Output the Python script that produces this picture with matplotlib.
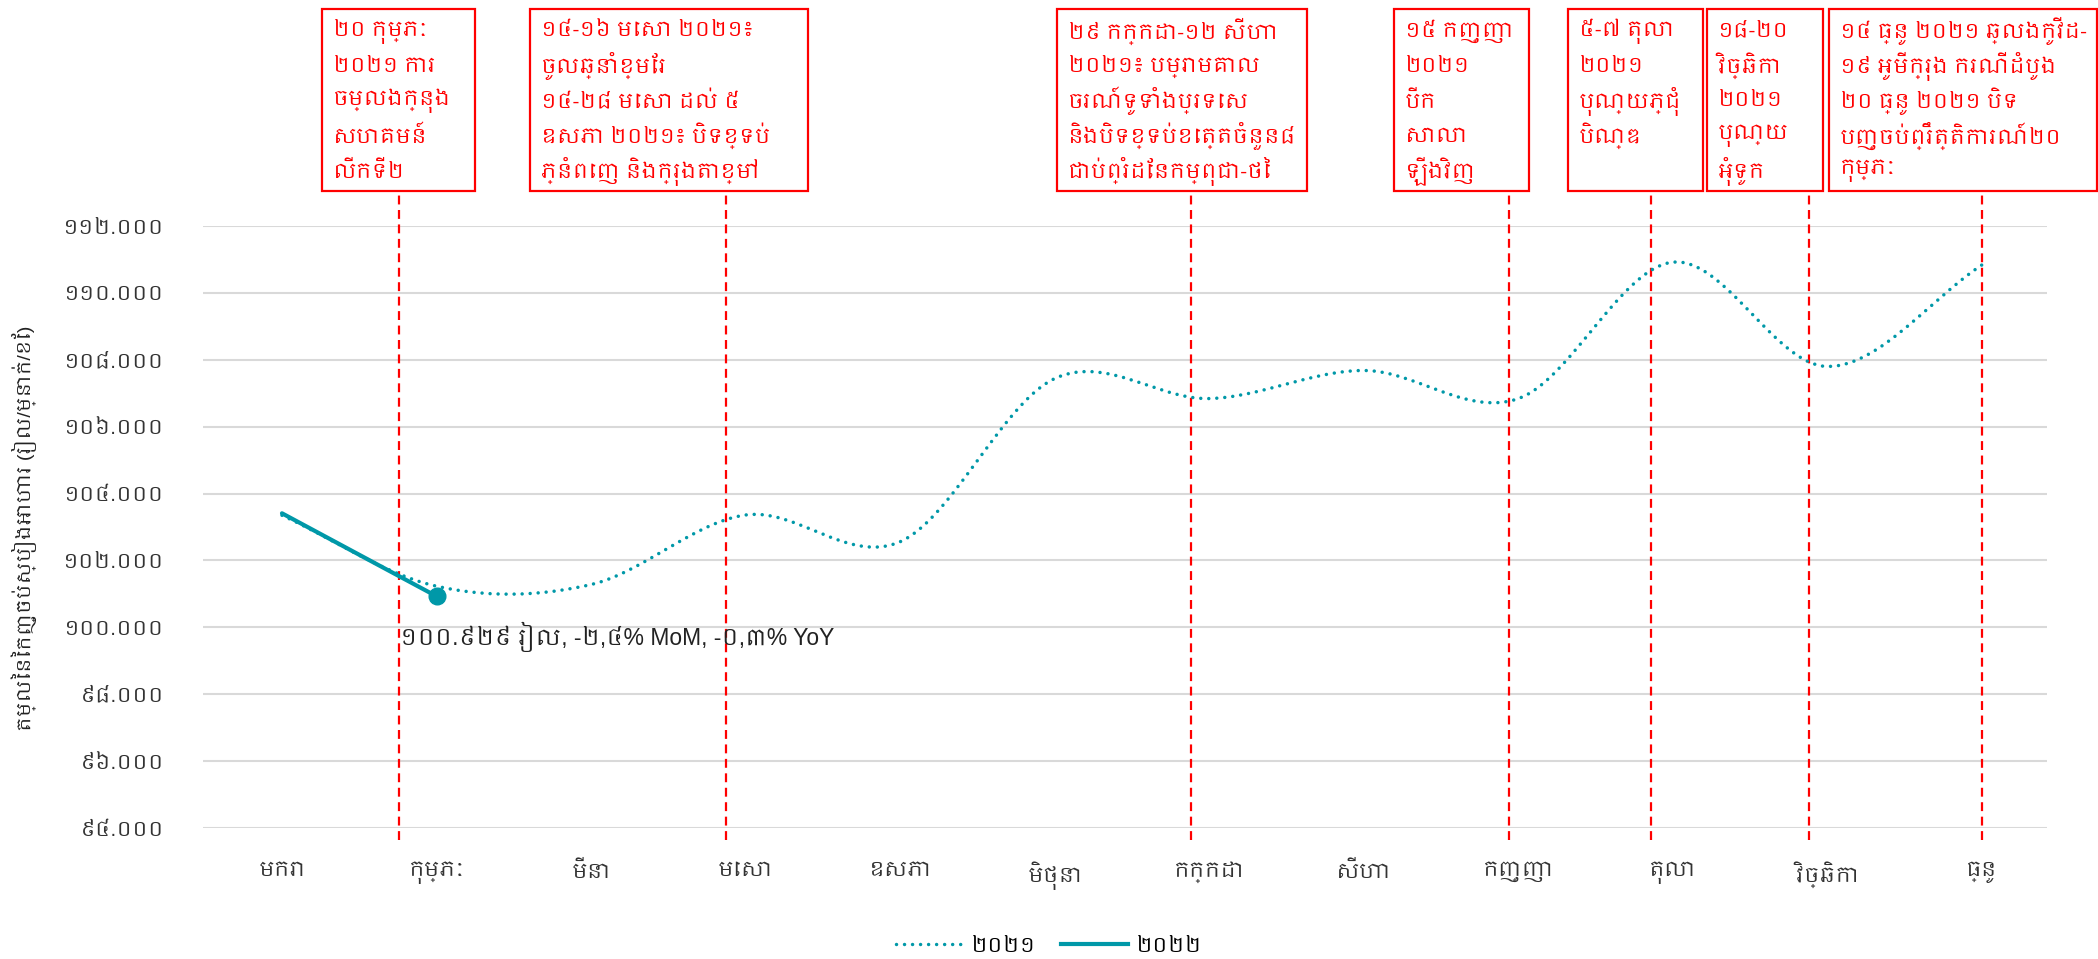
import matplotlib
matplotlib.use("Agg")
import matplotlib.pyplot as plt
from matplotlib import font_manager
from matplotlib.ft2font import FT2Font
from matplotlib.lines import Line2D
from matplotlib.patches import Rectangle
import numpy as np

# Data
months = ['មករា', 'កុម្ភៈ', 'មីនា', 'មេសា', 'ឧសភា', 'មិថុនា',
          'កក្កដា', 'សីហា', 'កញ្ញា', 'តុលា', 'វិច្ឆិកា', 'ធ្នូ']
values_2021 = [103.35, 101.23, 101.28, 103.36, 102.56, 107.44,
               106.84, 107.68, 106.84, 110.92, 107.80, 110.84]
values_2022 = [103.41, 100.929]
series_names = ['២០២១', '២០២២']
y_ticks = [94, 96, 98, 100, 102, 104, 106, 108, 110, 112]
y_label = 'តម្លៃនៃកញ្ចប់ស្បៀងអាហារ (រៀល/ម្នាក់/ខែ)'
last_label = '១០០.៩២៩ រៀល, -២,៤% MoM, -០,៣% YoY'

# events: position on the month axis and text
event_pos = [0.76, 2.87, 5.88, 7.94, 8.86, 9.88, 11.0]
event_text = [
    '២០ កុម្ភៈ\n២០២១ ការ\nចម្លងក្នុង\nសហគមន៍\nលើកទី២',
    '១៤-១៦ មេសា ២០២១៖\nចូលឆ្នាំខ្មែរ\n១៤-២៨ មេសា ដល់ ៥\nឧសភា ២០២១៖ បិទខ្ទប់\nភ្នំពេញ និងក្រុងតាខ្មៅ',
    '២៩ កក្កដា-១២ សីហា\n២០២១៖ បម្រាមគោល\nចរណ៍ទូទាំងប្រទេស\nនិងបិទខ្ទប់ខេត្តចំនួន៨\nជាប់ព្រំដែនកម្ពុជា-ថៃ',
    '១៥ កញ្ញា\n២០២១\nបើក\nសាលា\nឡើងវិញ',
    '៥-៧ តុលា\n២០២១\nបុណ្យភ្ជុំ\nបិណ្ឌ',
    '១៨-២០\nវិច្ឆិកា\n២០២១\nបុណ្យ\nអុំទូក',
    '១៤ ធ្នូ ២០២១ ឆ្លងកូវីដ-\n១៩ អូមីក្រុង ករណីដំបូង\n២០ ធ្នូ ២០២១ បិទ\nបញ្ចប់ព្រឹត្តិការណ៍២០\nកុម្ភៈ',
]
# box x-extents in figure pixels (layout only)
box_spans = [(322, 475), (530, 808), (1057, 1307), (1394, 1529),
             (1568, 1703), (1707, 1823), (1829, 2097)]

KHMER = str.maketrans('0123456789', '០១២៣៤៥៦៧៨៩')


def find_khmer_font():
    found = []
    for f in font_manager.fontManager.ttflist:
        try:
            if 0x1780 in FT2Font(f.fname).get_charmap():
                found.append(f.name)
        except Exception:
            pass
    # prefer a proportional font named for Khmer
    found.sort(key=lambda n: ('Khmer' not in n, 'Mono' in n, n))
    return found[0] if found else None


kh = find_khmer_font()
families = ['Liberation Sans'] + ([kh] if kh else []) + ['DejaVu Sans']
plt.rcParams['font.family'] = families

teal = '#0098A8'
red = '#FF0000'
W, H = 2098, 959

fig = plt.figure(figsize=(W / 100, H / 100), dpi=100)
ax = fig.add_axes([203 / W, 1 - 828 / H, (2047 - 203) / W, (828 - 226) / H])

# smooth 2021 curve (Catmull-Rom through the monthly values)
x = np.arange(len(values_2021))
y = np.array(values_2021)
tang = np.gradient(y)
xs, ys = [], []
for i in range(len(x) - 1):
    t = np.linspace(0, 1, 30)
    h00 = 2 * t**3 - 3 * t**2 + 1
    h10 = t**3 - 2 * t**2 + t
    h01 = -2 * t**3 + 3 * t**2
    h11 = t**3 - t**2
    xs.extend(x[i] + t)
    ys.extend(h00 * y[i] + h10 * tang[i] + h01 * y[i + 1] + h11 * tang[i + 1])
ax.plot(xs, ys, color=teal, lw=2.5, linestyle=(0, (0.01, 2.3)),
        dash_capstyle='round', zorder=3)

x22 = np.arange(len(values_2022))
ax.plot(x22, values_2022, color=teal, lw=3, solid_capstyle='round', zorder=4)
ax.plot(x22[-1], values_2022[-1], 'o', color=teal, markersize=12, zorder=5)
ax.annotate(last_label, xy=(x22[-1], values_2022[-1]), xytext=(-37, -41),
            textcoords='offset pixels', ha='left', va='center',
            fontsize=16.5, color='#222222')

# event lines
for pos in event_pos:
    ax.axvline(pos, ymin=-0.02, ymax=1 + (226 - 191) / 602, color=red,
               lw=1.6, linestyle=(0, (4, 2.5)), clip_on=False, zorder=2)

ax.set_xlim(-0.511, 11.42)
ax.set_ylim(94, 112)
ax.set_yticks(y_ticks)
ax.set_yticklabels([(str(v) + '.000').translate(KHMER) for v in y_ticks],
                   fontsize=15, color='#333333')
ax.set_xticks(x)
ax.set_xticklabels(months, fontsize=15, color='#333333')
ax.tick_params(axis='y', length=0, pad=28)
ax.tick_params(axis='x', length=0, pad=24)
ax.grid(axis='y', color='#d9d9d9', lw=1.5)
ax.set_axisbelow(True)
for s in ax.spines.values():
    s.set_visible(False)
fig.text(24 / W, 1 - 528 / H, y_label, rotation=90, ha='center', va='center',
         fontsize=14, color='#222222')

# event boxes, one text per line so the spacing stays even
for (l, r), txt in zip(box_spans, event_text):
    fig.patches.append(Rectangle((l / W, 1 - 191 / H), (r - l) / W, (191 - 9) / H,
                                 transform=fig.transFigure, facecolor='white',
                                 edgecolor=red, lw=1.6, zorder=5))
    for k, line in enumerate(txt.split('\n')):
        fig.text((l + 11) / W, 1 - (31 + 35 * k) / H, line, ha='left',
                 va='center', fontsize=15, color=red, zorder=6)

handles = [Line2D([0], [0], color=teal, lw=2.5, linestyle=(0, (0.01, 2.3)),
                  dash_capstyle='round'),
           Line2D([0], [0], color=teal, lw=3)]
fig.legend(handles, series_names, loc='center', bbox_to_anchor=(0.5, 1 - 946 / H),
           ncol=2, frameon=False, fontsize=15, handlelength=3.2,
           columnspacing=1.2, handletextpad=0.4)

fig.savefig('out.png', dpi=100)
